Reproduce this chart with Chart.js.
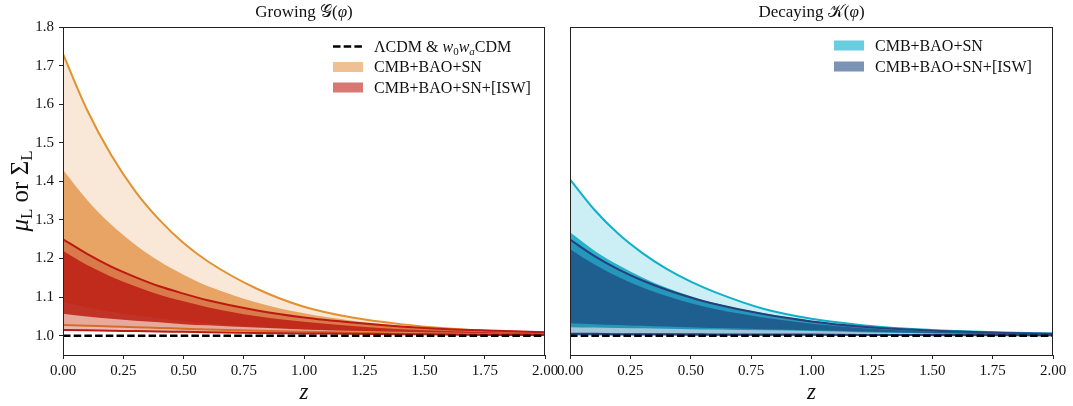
<!DOCTYPE html>
<html>
<head>
<meta charset="utf-8">
<script src="https://cdn.jsdelivr.net/npm/chart.js@4.4.0/dist/chart.umd.min.js"></script>
<style>
  body { margin: 0; background: #fff; width: 1073px; height: 406px; position: relative; overflow: hidden; }
  canvas { position: absolute; top: 0; }
  #growing { left: 0; }
  #decaying { left: 553px; }
</style>
</head>
<body>
<canvas id="growing" width="562" height="406"></canvas>
<canvas id="decaying" width="520" height="406"></canvas>
<script>
// redshift grid shared by every curve
const zGrid = [0, 0.1, 0.2, 0.3, 0.4, 0.5, 0.6, 0.8, 1.0, 1.2, 1.4, 1.6, 1.8, 2.0];
const zTicks = [0, 0.25, 0.5, 0.75, 1.0, 1.25, 1.5, 1.75, 2.0];
const muTicks = [1.0, 1.1, 1.2, 1.3, 1.4, 1.5, 1.6, 1.7, 1.8];

// LCDM / w0waCDM reference
const lcdmZ = [0, 2];
const lcdmMu = [1.0, 1.0];

// Growing G(phi): CMB+BAO+SN
const gBaseHi95 = [1.730, 1.585, 1.468, 1.374, 1.300, 1.240, 1.193, 1.123, 1.075, 1.047, 1.030, 1.019, 1.012, 1.008];
const gBaseHi68 = [1.430, 1.352, 1.288, 1.236, 1.193, 1.158, 1.129, 1.087, 1.058, 1.039, 1.026, 1.018, 1.011, 1.007];
const gBaseLo68 = [1.088, 1.074, 1.063, 1.053, 1.045, 1.038, 1.032, 1.023, 1.017, 1.012, 1.009, 1.006, 1.004, 1.003];
const gBaseLo95 = [1.028, 1.026, 1.024, 1.022, 1.020, 1.018, 1.016, 1.013, 1.010, 1.008, 1.006, 1.004, 1.003, 1.002];
// Growing G(phi): CMB+BAO+SN+[ISW]
const gIswHi95 = [1.250, 1.212, 1.179, 1.152, 1.128, 1.109, 1.092, 1.066, 1.047, 1.034, 1.024, 1.017, 1.013, 1.009];
const gIswHi68 = [1.220, 1.183, 1.153, 1.128, 1.106, 1.089, 1.074, 1.051, 1.036, 1.025, 1.017, 1.012, 1.008, 1.006];
const gIswLo68 = [1.057, 1.050, 1.044, 1.039, 1.035, 1.030, 1.027, 1.021, 1.016, 1.013, 1.010, 1.008, 1.006, 1.005];
const gIswLo95 = [1.015, 1.014, 1.013, 1.012, 1.011, 1.010, 1.009, 1.007, 1.006, 1.005, 1.004, 1.003, 1.002, 1.002];

// Decaying K(phi): CMB+BAO+SN
const dBaseHi95 = [1.405, 1.327, 1.264, 1.214, 1.173, 1.140, 1.113, 1.070, 1.044, 1.028, 1.018, 1.012, 1.008, 1.006];
const dBaseHi68 = [1.268, 1.221, 1.183, 1.151, 1.124, 1.102, 1.084, 1.058, 1.039, 1.025, 1.016, 1.011, 1.007, 1.005];
const dBaseLo68 = [1.022, 1.021, 1.020, 1.019, 1.018, 1.017, 1.016, 1.014, 1.012, 1.009, 1.007, 1.005, 1.004, 1.003];
const dBaseLo95 = [1.003, 1.003, 1.003, 1.003, 1.003, 1.002, 1.002, 1.002, 1.002, 1.002, 1.002, 1.001, 1.001, 1.001];
// Decaying K(phi): CMB+BAO+SN+[ISW]
const dIswHi95 = [1.249, 1.207, 1.172, 1.143, 1.119, 1.099, 1.082, 1.056, 1.037, 1.024, 1.016, 1.011, 1.007, 1.005];
const dIswHi68 = [1.225, 1.185, 1.152, 1.125, 1.103, 1.084, 1.069, 1.047, 1.031, 1.020, 1.013, 1.009, 1.006, 1.004];
const dIswLo68 = [1.032, 1.030, 1.028, 1.026, 1.024, 1.022, 1.020, 1.017, 1.014, 1.011, 1.008, 1.006, 1.004, 1.003];
const dIswLo95 = [1.005, 1.005, 1.004, 1.004, 1.004, 1.004, 1.003, 1.003, 1.003, 1.002, 1.002, 1.002, 1.002, 1.001];

const SERIF = '"Liberation Serif", "DejaVu Serif", serif';
const rm = s => s + 'px ' + SERIF;
const it = s => 'italic ' + s + 'px ' + SERIF;
const NONE = 'rgba(0,0,0,0)';

function curve(ys) { return ys.map((y, i) => ({x: zGrid[i], y: y})); }

// one confidence band = lower edge + upper edge filled down to it
function band(lo, hi, loIdx, fillColor, lineColor, lineWidth, order) {
  const base = {pointRadius: 0, cubicInterpolationMode: 'monotone', borderWidth: lineWidth || 1,
                borderColor: lineColor || NONE, order: order};
  return [
    Object.assign({}, base, {data: curve(lo), fill: false}),
    Object.assign({}, base, {data: curve(hi), fill: {target: loIdx}, backgroundColor: fillColor})
  ];
}

function lcdmLine() {
  return {data: lcdmZ.map((z, i) => ({x: z, y: lcdmMu[i]})), borderColor: '#000', borderWidth: 2.6,
          borderDash: [7.5, 3.2], pointRadius: 0, fill: false, order: 1};
}

function drawRuns(ctx, runs, x, y, align) {
  let w = 0;
  runs.forEach(r => { ctx.font = r[1]; w += ctx.measureText(r[0]).width; });
  let cx = align === 'center' ? x - w / 2 : x;
  ctx.textBaseline = 'alphabetic';
  ctx.textAlign = 'left';
  runs.forEach(r => {
    ctx.font = r[1];
    ctx.fillText(r[0], cx, y + (r[2] || 0));
    cx += ctx.measureText(r[0]).width;
  });
}

// frame, panel title, axis labels and legend
function decor(spec) {
  return {
    id: 'decor',
    afterDraw(chart) {
      const ctx = chart.ctx, a = chart.chartArea;
      ctx.save();
      ctx.strokeStyle = '#222';
      ctx.lineWidth = 1;
      ctx.strokeRect(Math.round(a.left) + 0.5, Math.round(a.top) + 0.5,
                     Math.round(a.right - a.left) - 1, Math.round(a.bottom - a.top));
      ctx.fillStyle = '#111';
      const mid = (a.left + a.right) / 2;
      drawRuns(ctx, spec.title, mid, 17, 'center');
      drawRuns(ctx, [['z', it(23)]], mid, 399, 'center');
      if (spec.yLabel) {
        ctx.save();
        ctx.translate(20, 191);
        ctx.rotate(-Math.PI / 2);
        drawRuns(ctx, [['μ', it(25)], ['L', rm(17), 4], [' or ', rm(25)], ['Σ', rm(25)], ['L', rm(17), 4]], 0, 8, 'center');
        ctx.restore();
      }
      spec.legend.forEach(item => {
        const y = item.y;
        if (item.dash) {
          ctx.save();
          ctx.strokeStyle = '#000';
          ctx.lineWidth = 2.4;
          ctx.setLineDash([7.5, 3.2]);
          ctx.beginPath();
          ctx.moveTo(spec.patchX, y);
          ctx.lineTo(spec.patchX + 30, y);
          ctx.stroke();
          ctx.restore();
        } else {
          ctx.fillStyle = item.color;
          ctx.fillRect(spec.patchX, y - 5, 30, 10);
        }
        ctx.fillStyle = '#111';
        drawRuns(ctx, item.runs, spec.textX, y + 5, 'left');
      });
      ctx.restore();
    }
  };
}

function scales(showY) {
  return {
    x: {
      type: 'linear', min: 0, max: 2,
      afterBuildTicks: s => { s.ticks = zTicks.map(v => ({value: v})); },
      ticks: {callback: v => v.toFixed(2), color: '#111', font: {family: SERIF, size: 15}, padding: 3,
              maxRotation: 0, autoSkip: false},
      grid: {drawOnChartArea: false, tickLength: 4, color: '#222'},
      border: {color: '#222', width: 1},
      afterFit: s => { s.height = 51; s.paddingLeft = 0; s.paddingRight = 0; }
    },
    y: {
      type: 'linear', min: 0.95, max: 1.8,
      afterBuildTicks: s => { s.ticks = muTicks.map(v => ({value: v})); },
      ticks: {display: showY, callback: v => v.toFixed(1), color: '#111', font: {family: SERIF, size: 15}, padding: 5},
      grid: {drawOnChartArea: false, drawTicks: showY, tickLength: 4, color: '#222'},
      border: {color: '#222', width: 1},
      afterFit: s => { s.width = showY ? 63 : 17; s.paddingTop = 0; s.paddingBottom = 0; }
    }
  };
}

function makeChart(id, datasets, padRight, spec) {
  return new Chart(document.getElementById(id), {
    type: 'line',
    data: {datasets: datasets},
    options: {
      responsive: false,
      animation: false,
      layout: {padding: {top: 27, right: padRight, left: 0, bottom: 0}},
      plugins: {legend: {display: false}, tooltip: {enabled: false}},
      scales: scales(spec.yLabel)
    },
    plugins: [decor(spec)]
  });
}

const orange = 'rgb(227,144,47)', red = 'rgb(187,26,16)';
const cyan = 'rgb(15,176,200)', navy = 'rgb(38,63,125)';

makeChart('growing', [].concat(
  band(gBaseLo95, gBaseHi95, 0, 'rgba(226,140,60,0.2)', orange, 2, 5),
  band(gBaseLo68, gBaseHi68, 2, 'rgba(226,140,60,0.75)', null, 1, 4),
  band(gIswLo95, gIswHi95, 4, 'rgba(188,30,20,0.31)', red, 2, 3),
  band(gIswLo68, gIswHi68, 6, 'rgba(188,30,20,0.86)', null, 1, 2),
  [lcdmLine()]
), 17, {
  title: [['Growing ', rm(17)], ['𝒢', rm(17)], ['(', rm(17)], ['φ', it(17)], [')', rm(17)]],
  yLabel: true,
  patchX: 333, textX: 374,
  legend: [
    {dash: true, y: 46.5, runs: [['ΛCDM & ', rm(16)], ['w', it(16)], ['0', rm(11), 3], ['w', it(16)], ['a', it(11), 3], ['CDM', rm(16)]]},
    {color: 'rgba(226,140,60,0.55)', y: 67, runs: [['CMB+BAO+SN', rm(16)]]},
    {color: 'rgba(188,30,20,0.6)', y: 87.5, runs: [['CMB+BAO+SN+[ISW]', rm(16)]]}
  ]
});

makeChart('decaying', [].concat(
  band(dBaseLo95, dBaseHi95, 0, 'rgba(20,180,205,0.22)', cyan, 2, 5),
  band(dBaseLo68, dBaseHi68, 2, 'rgba(20,170,200,0.9)', null, 1, 4),
  band(dIswLo95, dIswHi95, 4, 'rgba(35,75,130,0.25)', navy, 2, 3),
  band(dIswLo68, dIswHi68, 6, 'rgba(30,90,140,0.92)', null, 1, 2),
  [lcdmLine()]
), 20, {
  title: [['Decaying ', rm(17)], ['𝒦', rm(17)], ['(', rm(17)], ['φ', it(17)], [')', rm(17)]],
  yLabel: false,
  patchX: 281, textX: 322,
  legend: [
    {color: 'rgba(20,180,205,0.65)', y: 45.5, runs: [['CMB+BAO+SN', rm(16)]]},
    {color: 'rgba(35,75,130,0.6)', y: 66.5, runs: [['CMB+BAO+SN+[ISW]', rm(16)]]}
  ]
});
</script>
</body>
</html>
